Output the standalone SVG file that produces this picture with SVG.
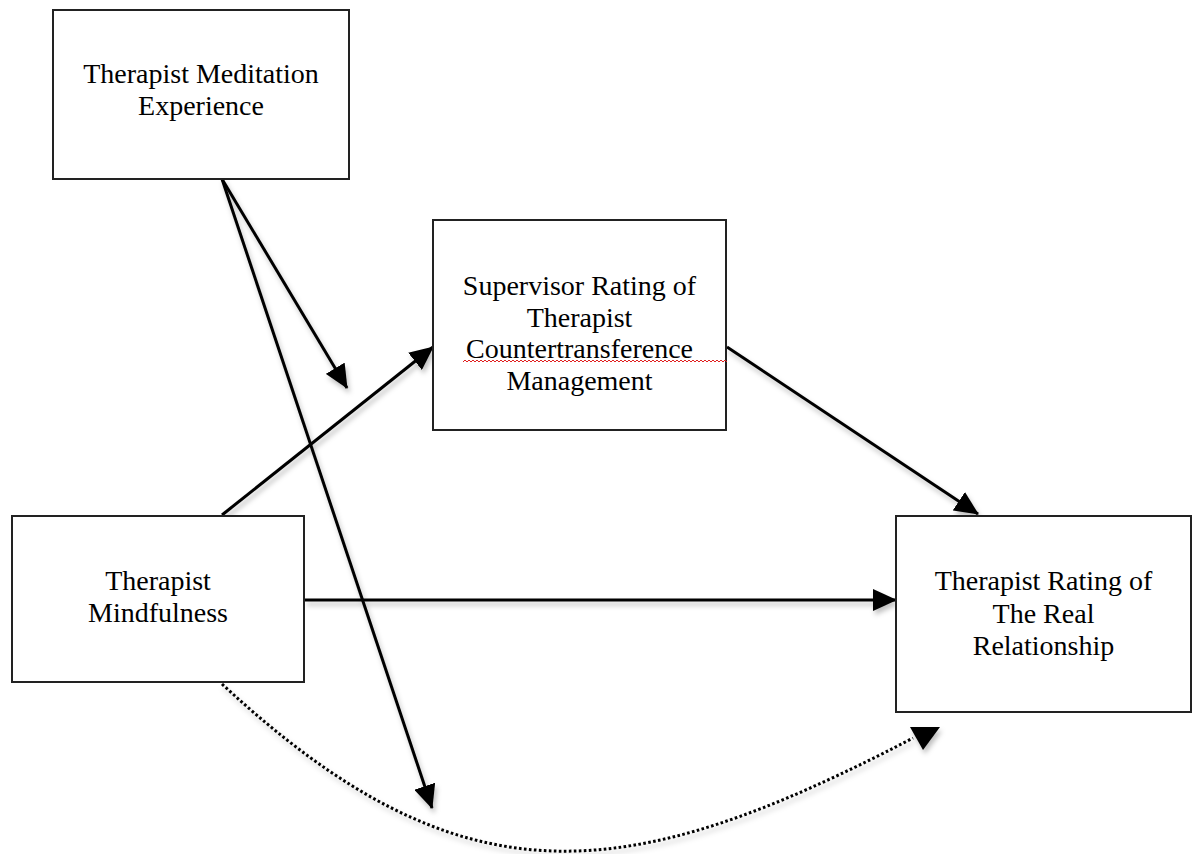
<svg xmlns="http://www.w3.org/2000/svg" width="1193" height="854" viewBox="0 0 1193 854">
<style>
.box{fill:#fff;stroke:#222;stroke-width:2}
.lbl{font-family:"Liberation Serif","Times New Roman",serif;font-size:28px;fill:#000;text-anchor:middle}
.conn{fill:none;stroke:#000;stroke-width:3}
.dot{fill:none;stroke:#000;stroke-width:3;stroke-dasharray:2.6 2.4}
.head{fill:#000}
</style>
<defs>
<filter id="sh" x="-10%" y="-10%" width="120%" height="130%">
<feDropShadow dx="2" dy="4" stdDeviation="2.5" flood-color="#000" flood-opacity="0.25"/>
</filter>
<marker id="arr" viewBox="0 0 24 22" refX="23" refY="11" markerWidth="24" markerHeight="22" markerUnits="userSpaceOnUse" orient="auto">
<path d="M0,0 L24,11 L0,22 Z" class="head"/>
</marker>
</defs>
<rect width="1193" height="854" fill="#fff"/>
<g id="connectors" filter="url(#sh)">
<line class="conn" x1="222" y1="179" x2="347" y2="388" marker-end="url(#arr)"/>
<line class="conn" x1="222" y1="179" x2="432" y2="808" marker-end="url(#arr)"/>
<line class="conn" x1="222" y1="515" x2="433" y2="347" marker-end="url(#arr)"/>
<line class="conn" x1="727" y1="347" x2="978" y2="514" marker-end="url(#arr)"/>
<line class="conn" x1="305" y1="600" x2="896" y2="600" marker-end="url(#arr)"/>
<path class="dot" d="M222,684 C462,907 625,888 913,738"/>
<polygon class="head" points="910,727 940,727 923,750"/>
</g>
<g id="node-meditation">
<rect class="box" x="53" y="10" width="296" height="169"/>
<text class="lbl" x="201" y="83">Therapist Meditation</text>
<text class="lbl" x="201" y="115">Experience</text>
</g>
<g id="node-supervisor">
<rect class="box" x="433" y="220" width="293" height="210"/>
<text class="lbl" x="579.5" y="295">Supervisor Rating of</text>
<text class="lbl" x="579.5" y="327">Therapist</text>
<text class="lbl" x="579.5" y="358">Countertransference</text>
<text class="lbl" x="579.5" y="390">Management</text>
<path d="M463,362 l2,-2 l2,2 l2,-2 l2,2 l2,-2 l2,2 l2,-2 l2,2 l2,-2 l2,2 l2,-2 l2,2 l2,-2 l2,2 l2,-2 l2,2 l2,-2 l2,2 l2,-2 l2,2 l2,-2 l2,2 l2,-2 l2,2 l2,-2 l2,2 l2,-2 l2,2 l2,-2 l2,2 l2,-2 l2,2 l2,-2 l2,2 l2,-2 l2,2 l2,-2 l2,2 l2,-2 l2,2 l2,-2 l2,2 l2,-2 l2,2 l2,-2 l2,2 l2,-2 l2,2 l2,-2 l2,2 l2,-2 l2,2 l2,-2 l2,2 l2,-2 l2,2 l2,-2 l2,2 l2,-2 l2,2 l2,-2 l2,2 l2,-2 l2,2 l2,-2 l2,2 l2,-2 l2,2 l2,-2 l2,2 l2,-2 l2,2 l2,-2 l2,2 l2,-2 l2,2 l2,-2 l2,2 l2,-2 l2,2 l2,-2 l2,2 l2,-2 l2,2 l2,-2 l2,2 l2,-2 l2,2 l2,-2 l2,2 l2,-2 l2,2 l2,-2 l2,2 l2,-2 l2,2 l2,-2 l2,2 l2,-2 l2,2 l2,-2 l2,2 l2,-2 l2,2 l2,-2 l2,2 l2,-2 l2,2 l2,-2 l2,2 l2,-2 l2,2 l2,-2 l2,2 l2,-2 l2,2 l2,-2 l2,2 l2,-2 l2,2 l2,-2 l2,2 l2,-2 l2,2 l2,-2 l2,2 l2,-2 l2,2 l2,-2 l2,2 l2,-2 l2,2" fill="none" stroke="#e02020" stroke-width="1"/>
</g>
<g id="node-mindfulness">
<rect class="box" x="12" y="516" width="292" height="166"/>
<text class="lbl" x="158" y="590">Therapist</text>
<text class="lbl" x="158" y="622">Mindfulness</text>
</g>
<g id="node-real-relationship">
<rect class="box" x="896" y="516" width="295" height="196"/>
<text class="lbl" x="1043.5" y="590">Therapist Rating of</text>
<text class="lbl" x="1043.5" y="623">The Real</text>
<text class="lbl" x="1043.5" y="655">Relationship</text>
</g>
</svg>
